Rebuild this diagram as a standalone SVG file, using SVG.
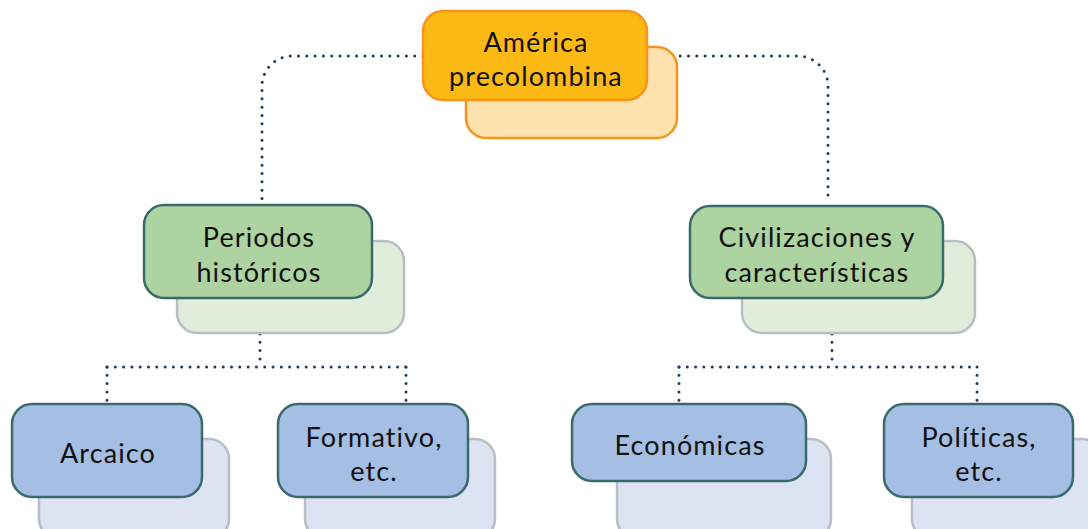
<svg xmlns="http://www.w3.org/2000/svg" width="1088" height="529" viewBox="0 0 1088 529">
  <style>
    .conn { fill: none; stroke: #1c3a5a; stroke-width: 3; stroke-linecap: round; stroke-dasharray: 0 8.3; }
    .o-back { fill: #fde2ae; stroke: #f7941d; stroke-width: 2.5; }
    .o-front { fill: #fdb913; stroke: #f7941d; stroke-width: 2.5; }
    .g-back { fill: #e0edda; stroke: #b6c0c4; stroke-width: 2.5; }
    .g-front { fill: #acd3a0; stroke: #3a6a6c; stroke-width: 2.5; }
    .b-back { fill: #dce3f3; stroke: #b6c0c4; stroke-width: 2.5; }
    .b-front { fill: #a4bfe3; stroke: #3a6a6c; stroke-width: 2.5; }
    text { font-family: "Lato", "Liberation Sans", sans-serif; font-size: 27px; letter-spacing: 1.1px; fill: #111; text-anchor: middle; }
  </style>
  <rect width="1088" height="529" fill="#ffffff"/>
  <g id="connectors">
    <path class="conn" d="M423,56 H292 A30,30 0 0 0 262,86 V200"/>
    <path class="conn" d="M647,56 H798 A30,30 0 0 1 828,86 V200"/>
    <path class="conn" d="M260,334 V367"/>
    <path class="conn" d="M107,367 H406"/>
    <path class="conn" d="M107,367 V402"/>
    <path class="conn" d="M406,367 V402"/>
    <path class="conn" d="M832,334 V367"/>
    <path class="conn" d="M679,367 H977"/>
    <path class="conn" d="M679,367 V402"/>
    <path class="conn" d="M977,367 V402"/>
  </g>
  <g id="node-america">
    <rect class="o-back" x="466" y="47" width="211" height="91" rx="20"/>
    <rect class="o-front" x="423" y="11" width="224" height="89" rx="20"/>
    <text x="536" y="52">América</text>
    <text x="536" y="86">precolombina</text>
  </g>
  <g id="node-periodos">
    <rect class="g-back" x="177" y="241" width="227" height="92" rx="20"/>
    <rect class="g-front" x="144" y="205" width="228" height="93" rx="20"/>
    <text x="259" y="247">Periodos</text>
    <text x="259" y="282">históricos</text>
  </g>
  <g id="node-civilizaciones">
    <rect class="g-back" x="742" y="241" width="233" height="92" rx="20"/>
    <rect class="g-front" x="690" y="206" width="253" height="92" rx="20"/>
    <text x="817" y="247">Civilizaciones y</text>
    <text x="817" y="282">características</text>
  </g>
  <g id="node-arcaico">
    <rect class="b-back" x="39" y="439" width="190" height="100" rx="20"/>
    <rect class="b-front" x="12" y="404" width="190" height="93" rx="20"/>
    <text x="108" y="463">Arcaico</text>
  </g>
  <g id="node-formativo">
    <rect class="b-back" x="305" y="439" width="190" height="100" rx="20"/>
    <rect class="b-front" x="278" y="404" width="190" height="93" rx="20"/>
    <text x="374" y="447">Formativo,</text>
    <text x="374" y="481">etc.</text>
  </g>
  <g id="node-economicas">
    <rect class="b-back" x="617" y="439" width="214" height="100" rx="20"/>
    <rect class="b-front" x="572" y="404" width="234" height="77" rx="20"/>
    <text x="690" y="455">Económicas</text>
  </g>
  <g id="node-politicas">
    <rect class="b-back" x="912" y="439" width="190" height="100" rx="20"/>
    <rect class="b-front" x="884" y="404" width="189" height="93" rx="20"/>
    <text x="979" y="447">Políticas,</text>
    <text x="979" y="481">etc.</text>
  </g>
</svg>
